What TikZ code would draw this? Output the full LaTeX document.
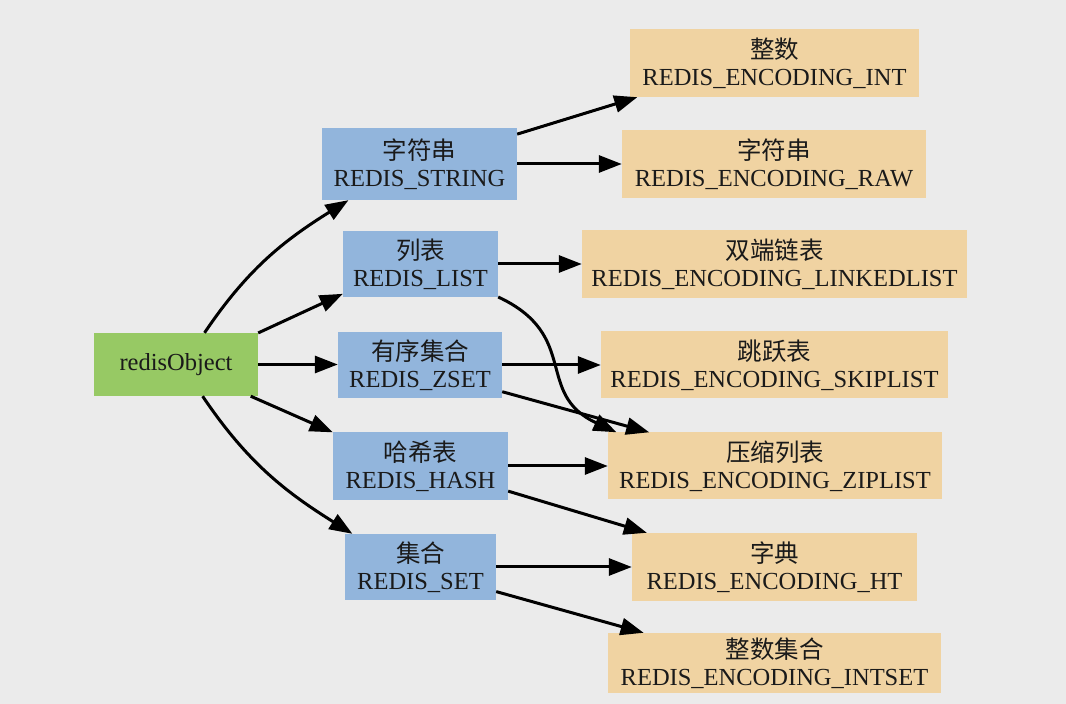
\documentclass[tikz,border=0pt]{standalone}
\usepackage{fontspec}
\setmainfont{Liberation Serif}
\newfontfamily\cjk{Noto Sans CJK SC}
\usetikzlibrary{arrows.meta}
\definecolor{bg}{HTML}{EBEBEB}
\definecolor{rootgreen}{HTML}{97C964}
\definecolor{typeblue}{HTML}{92B5DC}
\definecolor{enctan}{HTML}{F0D3A2}
\definecolor{txt}{HTML}{1A1A1A}
\begin{document}
\begin{tikzpicture}[x=1pt,y=1pt,
  box/.style={inner sep=0pt, align=center, text=txt,
    font=\fontsize{24.5}{27}\selectfont},
  rootbox/.style={box, fill=rootgreen},
  typebox/.style={box, fill=typeblue},
  encbox/.style={box, fill=enctan},
  link/.style={line width=3pt, draw=black,
    -{Triangle[length=23pt,width=17pt]}}]
\fill[bg] (0,0) rectangle (1066,704);
\useasboundingbox (0,0) rectangle (1066,704);

% object
\node[rootbox, minimum width=164pt, minimum height=63pt] (ro) at (176,339.5) {redisObject};

% types
\node[typebox, minimum width=195pt, minimum height=72pt] (str)  at (419.5,540) {{\cjk 字符串}\\REDIS\_STRING};
\node[typebox, minimum width=155pt, minimum height=66pt] (lst)  at (420.5,440) {{\cjk 列表}\\REDIS\_LIST};
\node[typebox, minimum width=164pt, minimum height=66pt] (zset) at (420,339)   {{\cjk 有序集合}\\REDIS\_ZSET};
\node[typebox, minimum width=175pt, minimum height=68pt] (hash) at (420.5,238) {{\cjk 哈希表}\\REDIS\_HASH};
\node[typebox, minimum width=151pt, minimum height=66pt] (set)  at (420.5,137) {{\cjk 集合}\\REDIS\_SET};

% encodings
\node[encbox, minimum width=289pt, minimum height=68pt] (int)    at (774.5,641) {{\cjk 整数}\\REDIS\_ENCODING\_INT};
\node[encbox, minimum width=304pt, minimum height=68pt] (raw)    at (774,540)   {{\cjk 字符串}\\REDIS\_ENCODING\_RAW};
\node[encbox, minimum width=385pt, minimum height=68pt] (linked) at (774.5,440) {{\cjk 双端链表}\\REDIS\_ENCODING\_LINKEDLIST};
\node[encbox, minimum width=347pt, minimum height=67pt] (skip)   at (774.5,339) {{\cjk 跳跃表}\\REDIS\_ENCODING\_SKIPLIST};
\node[encbox, minimum width=334pt, minimum height=67pt] (zip)    at (775,238)   {{\cjk 压缩列表}\\REDIS\_ENCODING\_ZIPLIST};
\node[encbox, minimum width=285pt, minimum height=68pt] (ht)     at (774.5,137) {{\cjk 字典}\\REDIS\_ENCODING\_HT};
\node[encbox, minimum width=333pt, minimum height=60pt] (intset) at (774.5,41)  {{\cjk 整数集合}\\REDIS\_ENCODING\_INTSET};

% object -> types
\draw[link] (ro.48.4) to[out=56,in=212] (str.207.4);
\draw[link] (ro.21.7) -- (lst.201.8);
\draw[link] (ro.east) -- (ro.east -| zset.west);
\draw[link] (ro.-23) -- (hash.159.3);
\draw[link] (ro.-50) to[out=-56,in=148] (set.154.9);

% types -> encodings
\draw[link] (str.17.6) -- (int.194.6);
\draw[link] (str.east) -- (raw.west);
\draw[link] (lst.east) -- (linked.west);
\draw[link] (lst.-23.9) to[out=-25,in=155,looseness=1.3] (zip.168.5);
\draw[link] (zset.east) -- (skip.west);
\draw[link] (zset.-18.2) -- (zip.165.6);
\draw[link] (hash.east) -- (zip.west);
\draw[link] (hash.-16.5) -- (ht.165.3);
\draw[link] (set.east) -- (ht.west);
\draw[link] (set.-18.3) -- (intset.167.2);
\end{tikzpicture}
\end{document}
